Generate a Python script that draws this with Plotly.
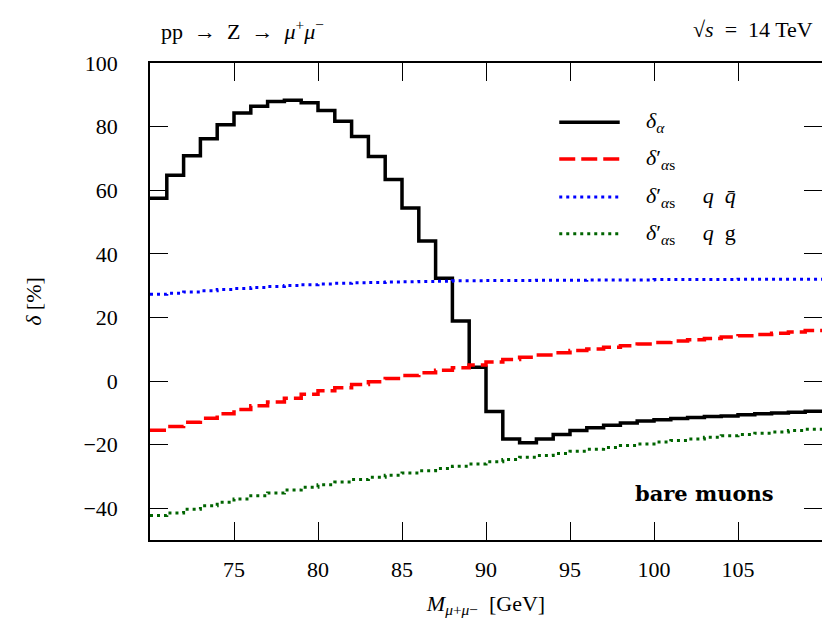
import plotly.graph_objects as go

# bin lower edges, 1 GeV bins from 70 to 110
edges = list(range(70, 111))

# delta_alpha (black step histogram), one value per bin
d_alpha = [57.5, 64.7, 70.8, 76.2, 80.6, 84.3, 86.4, 87.9, 88.3, 87.5,
           85.1, 81.7, 76.9, 70.6, 63.4, 54.4, 44.0, 32.3, 18.9, 4.3,
           -9.6, -18.2, -19.4, -18.2, -16.8, -15.6, -14.7, -13.9, -13.2, -12.6,
           -12.2, -11.8, -11.5, -11.2, -11.0, -10.6, -10.3, -10.1, -9.8, -9.5]

# delta'_alpha_s total (red dashed)
d_as = [-15.5, -14.3, -13.0, -11.7, -10.3, -9.0, -7.8, -6.6, -5.4, -4.2,
        -3.1, -2.1, -1.1, -0.2, 0.8, 1.7, 2.6, 3.4, 4.2, 5.0,
        6.0, 6.8, 7.5, 8.2, 8.9, 9.6, 10.1, 10.6, 11.1, 11.6,
        12.1, 12.6, 13.0, 13.4, 13.8, 14.2, 14.6, 15.0, 15.4, 15.9]

# delta'_alpha_s, q qbar channel (blue dotted)
d_qq = [27.3, 27.6, 28.0, 28.4, 28.8, 29.1, 29.4, 29.7, 30.0, 30.3,
        30.5, 30.7, 30.9, 31.0, 31.1, 31.2, 31.3, 31.4, 31.5, 31.5,
        31.6, 31.6, 31.6, 31.7, 31.7, 31.7, 31.8, 31.8, 31.8, 31.8,
        31.9, 31.9, 31.9, 31.9, 31.9, 32.0, 32.0, 32.0, 32.0, 32.0]

# delta'_alpha_s, q g channel (green dotted)
d_qg = [-42.3, -41.5, -40.3, -39.2, -38.1, -37.1, -36.1, -35.2, -34.3, -33.4,
        -32.6, -31.8, -31.0, -30.3, -29.6, -28.9, -28.2, -27.5, -26.8, -26.1,
        -25.4, -24.7, -24.0, -23.4, -22.8, -22.1, -21.5, -20.9, -20.3, -19.8,
        -19.2, -18.7, -18.2, -17.7, -17.2, -16.8, -16.4, -16.0, -15.6, -15.2]

x_ticks = [75, 80, 85, 90, 95, 100, 105]
y_ticks = [-40, -20, 0, 20, 40, 60, 80, 100]

FONT = "'Liberation Serif', 'DejaVu Serif', serif"

series = [
    (d_alpha, "black", "solid", 3.5, "<i>δ</i><sub><i>α</i></sub>"),
    (d_as, "#ff0000", "16px,6px", 3.5, "<i>δ</i>′<sub><i>α</i>s</sub>"),
    (d_qq, "#0000ff", "3px,4px", 3, "<i>δ</i>′<sub><i>α</i>s</sub>     <i>q</i>  <i>q̄</i>"),
    (d_qg, "#006400", "3px,4px", 3, "<i>δ</i>′<sub><i>α</i>s</sub>     <i>q</i>  g"),
]

fig = go.Figure()
for vals, col, dash, w, name in series:
    fig.add_trace(go.Scatter(
        x=edges, y=vals + [vals[-1]],
        mode="lines", line=dict(color=col, dash=dash, width=w, shape="hv"),
        name=name, showlegend=False,
    ))

# hand-drawn legend (longer line samples than plotly's own)
rows = [0.876, 0.799, 0.719, 0.642]
for (vals, col, dash, w, name), yr in zip(series, rows):
    fig.add_shape(type="line", xref="paper", yref="paper",
                  x0=0.609, x1=0.699, y0=yr, y1=yr,
                  line=dict(color=col, dash=dash, width=w))
    fig.add_annotation(xref="paper", yref="paper", x=0.735, y=yr,
                       text=name, showarrow=False, xanchor="left", yanchor="middle",
                       font=dict(size=22, family=FONT, color="black"))

fig.add_annotation(xref="paper", yref="paper", x=0.932, y=0.098,
                   text="<b>bare muons</b>", showarrow=False,
                   xanchor="right", yanchor="middle",
                   font=dict(size=21, family="'DejaVu Serif', serif", color="black"))
fig.add_annotation(xref="paper", yref="paper", x=0.014, y=1.07,
                   text="pp  →  Z  →  <i>μ</i><sup>+</sup><i>μ</i><sup>−</sup>",
                   showarrow=False, xanchor="left", yanchor="middle",
                   font=dict(size=22, family=FONT, color="black"))
fig.add_annotation(xref="paper", yref="paper", x=0.989, y=1.07,
                   text="√<i>s</i>  =  14 TeV",
                   showarrow=False, xanchor="right", yanchor="middle",
                   font=dict(size=22, family=FONT, color="black"))

axis_common = dict(
    showline=True, linecolor="black", linewidth=1.5, mirror="ticks",
    ticks="inside", ticklen=18, tickwidth=1.2, tickcolor="black",
    showgrid=False, zeroline=False, automargin=False,
    tickfont=dict(size=22, family=FONT, color="black"),
)

fig.update_xaxes(range=[70, 110], tickvals=x_ticks, ticklabelstandoff=9,
                 title=dict(text="<i>M</i><sub><i>μ</i>+<i>μ</i>−</sub>  [GeV]",
                            font=dict(size=22, family=FONT, color="black"), standoff=14),
                 **axis_common)
fig.update_yaxes(range=[-50, 100], tickvals=y_ticks, ticklabelstandoff=26,
                 title=dict(text="<i>δ</i> [%]",
                            font=dict(size=22, family=FONT, color="black"), standoff=36),
                 **axis_common)

# the page body keeps its default 8px margin, so the figure is sized to fit
fig.update_layout(
    width=822, height=631,
    margin=dict(l=142, r=8, t=55, b=99, autoexpand=False),
    paper_bgcolor="white", plot_bgcolor="white",
    font=dict(family=FONT, color="black"),
    showlegend=False,
)

fig.write_html("out.html")
